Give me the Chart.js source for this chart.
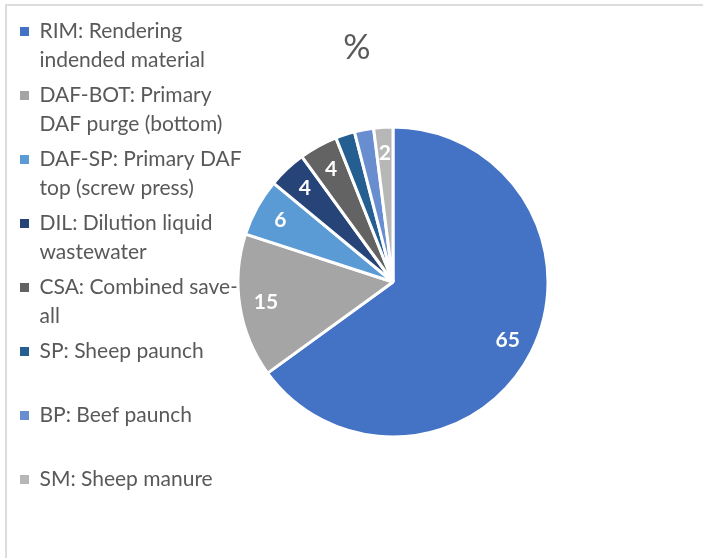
<!DOCTYPE html>
<html><head><meta charset="utf-8">
<script src="https://cdn.jsdelivr.net/npm/chart.js@4"></script>
<style>
html,body{margin:0;padding:0;background:#fff;width:703px;height:558px;overflow:hidden;}
#frame{position:absolute;left:5px;top:4px;width:760px;height:620px;border:2px solid #dcdcdc;box-sizing:border-box;}
#c{position:absolute;left:0;top:0;}
</style></head><body>
<div id="frame"></div>
<canvas id="c" width="703" height="558"></canvas>
<script>
const categories = [
  ['RIM: Rendering', 'indended material'],
  ['DAF-BOT: Primary', 'DAF purge (bottom)'],
  ['DAF-SP: Primary DAF', 'top (screw press)'],
  ['DIL: Dilution liquid', 'wastewater'],
  ['CSA: Combined save-', 'all'],
  ['SP: Sheep paunch', ''],
  ['BP: Beef paunch', ''],
  ['SM: Sheep manure', '']
];
const values = [65, 15, 6, 4, 4, 2, 2, 2];
const colors = ['#4472C4', '#A5A5A5', '#5B9BD5', '#264478', '#636363', '#255E91', '#698ED0', '#B7B7B7'];
const showValue = [true, true, true, true, true, false, false, true];
const titleText = '%';

const valueLabels = {
  id: 'valueLabels',
  afterDatasetsDraw(chart) {
    const ctx = chart.ctx;
    const meta = chart.getDatasetMeta(0);
    ctx.save();
    ctx.font = 'bold 21px Lato';
    ctx.fillStyle = '#ffffff';
    ctx.textAlign = 'center';
    ctx.textBaseline = 'middle';
    meta.data.forEach((arc, i) => {
      if (!showValue[i]) return;
      const p = arc.getProps(['x', 'y', 'startAngle', 'endAngle', 'outerRadius'], true);
      const a = (p.startAngle + p.endAngle) / 2;
      const r = p.outerRadius * 0.83;
      ctx.fillText(String(values[i]), p.x + Math.cos(a) * r, p.y + Math.sin(a) * r);
    });
    ctx.restore();
  }
};

new Chart(document.getElementById('c'), {
  type: 'pie',
  data: {
    labels: categories,
    datasets: [{
      data: values,
      backgroundColor: colors,
      borderColor: '#ffffff',
      borderWidth: 3,
      radius: 155
    }]
  },
  options: {
    responsive: false,
    animation: false,
    layout: { padding: { left: 14, right: 3, top: 15, bottom: 59 } },
    plugins: {
      title: {
        display: true,
        text: titleText,
        color: '#595959',
        font: { family: 'Lato', size: 34, weight: 'normal', lineHeight: 1 },
        padding: { top: 16, bottom: 0 }
      },
      subtitle: {
        display: true,
        text: ' ',
        position: 'right',
        fullSize: false,
        font: { size: 10, lineHeight: 1 },
        padding: { top: 0, bottom: 154 }
      },
      legend: {
        position: 'left',
        align: 'start',
        maxWidth: 236,
        labels: {
          boxWidth: 9,
          boxHeight: 9,
          padding: 6,
          color: '#595959',
          font: { family: 'Lato', size: 21, lineHeight: 1.381 },
          generateLabels(chart) {
            const base = Chart.overrides.pie.plugins.legend.labels.generateLabels(chart);
            return base.map((it, i) => Object.assign({}, it, {
              text: categories[i],
              lineWidth: 0,
              strokeStyle: colors[i],
              fontColor: '#595959'
            }));
          }
        }
      },
      tooltip: { enabled: false }
    }
  },
  plugins: [valueLabels]
});
</script>
</body></html>
